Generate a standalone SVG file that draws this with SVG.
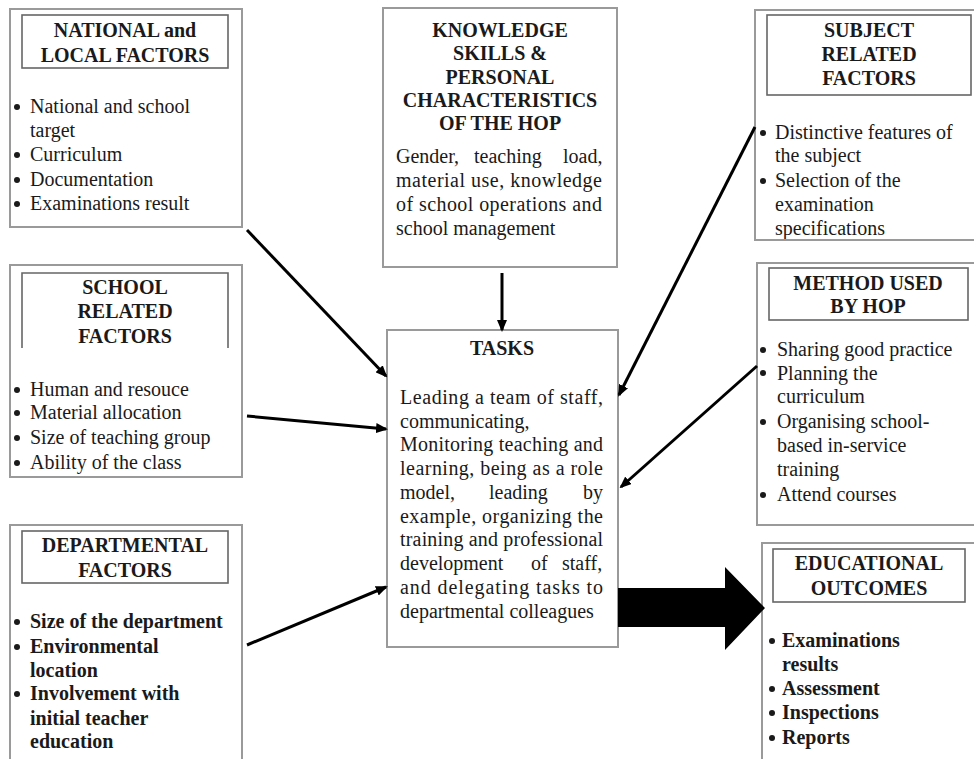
<svg xmlns="http://www.w3.org/2000/svg" width="974" height="759" viewBox="0 0 974 759">
<style>
.box{fill:#fff;stroke:#9a9a9a;stroke-width:2}
.tbox{fill:none;stroke:#666;stroke-width:1.6}
.t{font-family:"Liberation Serif","Times New Roman",serif;font-size:20px;fill:#1a1a1a}
.h{font-weight:bold;text-anchor:middle}
.b{font-weight:bold}
.dot{fill:#1a1a1a}
.con{stroke:#000;stroke-width:3;fill:none;marker-end:url(#ah)}
</style>
<defs>
<marker id="ah" markerWidth="12" markerHeight="10" refX="10" refY="5" orient="auto" markerUnits="userSpaceOnUse">
<path d="M0,0 L12,5 L0,10 Z" fill="#000"/>
</marker>
<clipPath id="subClip"><rect x="750" y="0" width="230" height="239"/></clipPath>
</defs>
<rect width="974" height="759" fill="#fff"/>

<g id="national">
<rect class="box" x="10" y="9" width="232" height="218"/>
<rect class="tbox" x="22" y="15" width="206" height="53"/>
<text class="t h" x="125" y="37">NATIONAL and</text>
<text class="t h" x="125" y="62">LOCAL FACTORS</text>
<circle class="dot" cx="17" cy="107" r="3"/>
<circle class="dot" cx="17" cy="155" r="3"/>
<circle class="dot" cx="17" cy="180" r="3"/>
<circle class="dot" cx="17" cy="204" r="3"/>
<text class="t" x="30" y="113">National and school</text>
<text class="t" x="30" y="137">target</text>
<text class="t" x="30" y="161">Curriculum</text>
<text class="t" x="30" y="186">Documentation</text>
<text class="t" x="30" y="210">Examinations result</text>
</g>

<g id="knowledge">
<rect class="box" x="383" y="8" width="234" height="259"/>
<text class="t h" x="500" y="37">KNOWLEDGE</text>
<text class="t h" x="500" y="60">SKILLS &amp;</text>
<text class="t h" x="500" y="84">PERSONAL</text>
<text class="t h" x="500" y="107">CHARACTERISTICS</text>
<text class="t h" x="500" y="130">OF THE HOP</text>
<text class="t" y="163"><tspan x="396">Gender,</tspan><tspan x="474">teaching</tspan><tspan x="563">load,</tspan></text>
<text class="t" x="396" y="187" textLength="206" lengthAdjust="spacing">material use, knowledge</text>
<text class="t" x="396" y="211" textLength="206" lengthAdjust="spacing">of school operations and</text>
<text class="t" x="396" y="235">school management</text>
</g>

<g id="subject">
<rect class="box" x="755" y="10" width="230" height="230"/>
<rect class="tbox" x="767" y="15" width="204" height="80"/>
<text class="t h" x="869" y="37">SUBJECT</text>
<text class="t h" x="869" y="61">RELATED</text>
<text class="t h" x="869" y="85">FACTORS</text>
<g clip-path="url(#subClip)">
<circle class="dot" cx="763" cy="133" r="3"/>
<circle class="dot" cx="763" cy="181" r="3"/>
<text class="t" x="775" y="139">Distinctive features of</text>
<text class="t" x="775" y="162">the subject</text>
<text class="t" x="775" y="187">Selection of the</text>
<text class="t" x="775" y="211">examination</text>
<text class="t" x="775" y="235">specifications</text>
</g>
</g>

<g id="school">
<rect class="box" x="10" y="265" width="232" height="212"/>
<path class="tbox" d="M22,348 V273 H228 V348"/>
<text class="t h" x="125" y="294">SCHOOL</text>
<text class="t h" x="125" y="318">RELATED</text>
<text class="t h" x="125" y="343">FACTORS</text>
<circle class="dot" cx="17" cy="390" r="3"/>
<circle class="dot" cx="17" cy="413" r="3"/>
<circle class="dot" cx="17" cy="438" r="3"/>
<circle class="dot" cx="17" cy="463" r="3"/>
<text class="t" x="30" y="396">Human and resouce</text>
<text class="t" x="30" y="419">Material allocation</text>
<text class="t" x="30" y="444">Size of teaching group</text>
<text class="t" x="30" y="469">Ability of the class</text>
</g>

<g id="tasks">
<rect class="box" x="387" y="330" width="231" height="317"/>
<text class="t h" x="502" y="355">TASKS</text>
<text class="t" x="400" y="404" textLength="203" lengthAdjust="spacing">Leading a team of staff,</text>
<text class="t" x="400" y="428">communicating,</text>
<text class="t" x="400" y="451" textLength="203" lengthAdjust="spacing">Monitoring teaching and</text>
<text class="t" x="400" y="475" textLength="203" lengthAdjust="spacing">learning, being as a role</text>
<text class="t" y="499"><tspan x="400">model,</tspan><tspan x="489">leading</tspan><tspan x="583">by</tspan></text>
<text class="t" x="400" y="523" textLength="203" lengthAdjust="spacing">example, organizing the</text>
<text class="t" x="400" y="546" textLength="203" lengthAdjust="spacing">training and professional</text>
<text class="t" y="570"><tspan x="400">development</tspan><tspan x="531">of</tspan><tspan x="562">staff,</tspan></text>
<text class="t" x="400" y="594" textLength="203" lengthAdjust="spacing">and delegating tasks to</text>
<text class="t" x="400" y="618">departmental colleagues</text>
</g>

<g id="method">
<rect class="box" x="757" y="263" width="230" height="262"/>
<rect class="tbox" x="769" y="268" width="199" height="52"/>
<text class="t h" x="868" y="290">METHOD USED</text>
<text class="t h" x="868" y="313">BY HOP</text>
<circle class="dot" cx="763" cy="350" r="3"/>
<circle class="dot" cx="763" cy="373" r="3"/>
<circle class="dot" cx="763" cy="422" r="3"/>
<circle class="dot" cx="763" cy="495" r="3"/>
<text class="t" x="777" y="356">Sharing good practice</text>
<text class="t" x="777" y="380">Planning the</text>
<text class="t" x="777" y="403">curriculum</text>
<text class="t" x="777" y="428">Organising school-</text>
<text class="t" x="777" y="452">based in-service</text>
<text class="t" x="777" y="476">training</text>
<text class="t" x="777" y="501">Attend courses</text>
</g>

<g id="departmental">
<rect class="box" x="10" y="525" width="232" height="245"/>
<rect class="tbox" x="22" y="531" width="206" height="52"/>
<text class="t h" x="125" y="552">DEPARTMENTAL</text>
<text class="t h" x="125" y="577">FACTORS</text>
<circle class="dot" cx="17" cy="622" r="3"/>
<circle class="dot" cx="17" cy="647" r="3"/>
<circle class="dot" cx="17" cy="694" r="3"/>
<text class="t b" x="30" y="628">Size of the department</text>
<text class="t b" x="30" y="653">Environmental</text>
<text class="t b" x="30" y="677">location</text>
<text class="t b" x="30" y="700">Involvement with</text>
<text class="t b" x="30" y="725">initial teacher</text>
<text class="t b" x="30" y="748">education</text>
</g>

<g id="outcomes">
<rect class="box" x="762" y="543" width="230" height="230"/>
<rect class="tbox" x="773" y="549" width="192" height="53"/>
<text class="t h" x="869" y="570">EDUCATIONAL</text>
<text class="t h" x="869" y="595">OUTCOMES</text>
<circle class="dot" cx="772" cy="641" r="3"/>
<circle class="dot" cx="772" cy="689" r="3"/>
<circle class="dot" cx="772" cy="713" r="3"/>
<circle class="dot" cx="772" cy="738" r="3"/>
<text class="t b" x="782" y="647">Examinations</text>
<text class="t b" x="782" y="671">results</text>
<text class="t b" x="782" y="695">Assessment</text>
<text class="t b" x="782" y="719">Inspections</text>
<text class="t b" x="782" y="744">Reports</text>
</g>

<g id="connectors">
<line class="con" x1="247" y1="230" x2="386" y2="376"/>
<line class="con" x1="247" y1="416" x2="386" y2="429"/>
<line class="con" x1="247" y1="645" x2="386" y2="587"/>
<line class="con" x1="755" y1="127" x2="619" y2="395"/>
<line class="con" x1="757" y1="366" x2="621" y2="487"/>
<line class="con" x1="502" y1="273" x2="502" y2="330"/>
<polygon points="618,588 725,588 725,567 765,608 725,650 725,627 618,627" fill="#000"/>
</g>
</svg>
